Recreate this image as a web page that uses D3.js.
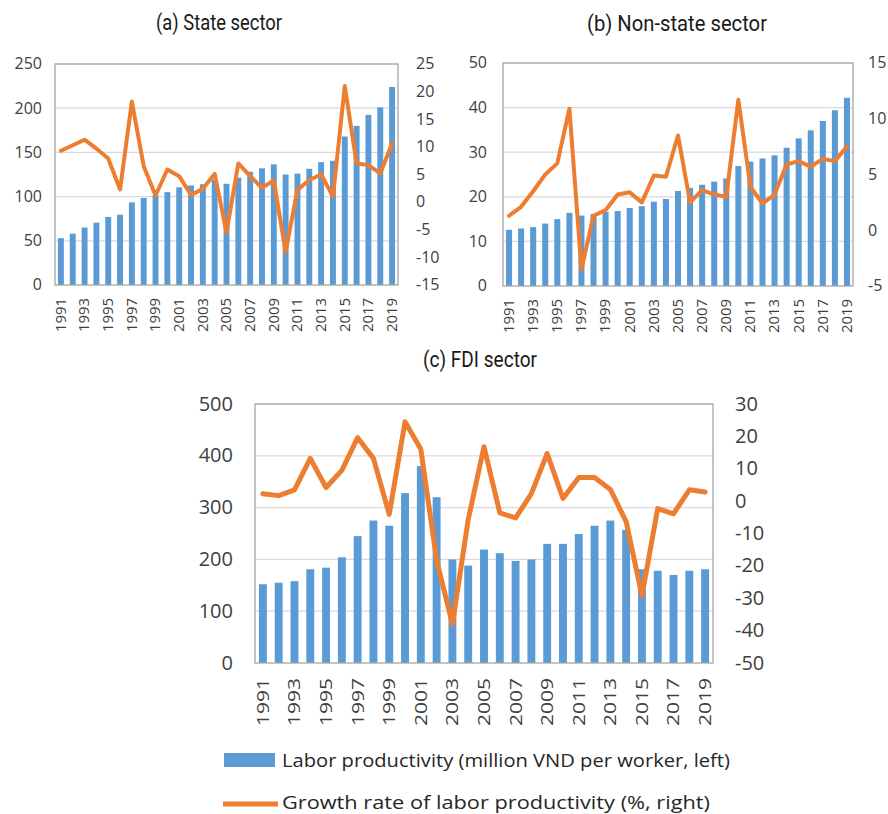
<!DOCTYPE html>
<html>
<head>
<meta charset="utf-8">
<script src="https://cdn.jsdelivr.net/npm/d3@7"></script>
<style>
  body { margin: 0; background: #fff; }
  svg { display: block; }
</style>
</head>
<body>
<script>
// years on the x axis (every other one gets a label)
let years = [1991,1992,1993,1994,1995,1996,1997,1998,1999,2000,2001,2002,2003,2004,2005,
             2006,2007,2008,2009,2010,2011,2012,2013,2014,2015,2016,2017,2018,2019];

// (a) state sector
let stateProd = [53,58,65,70.5,77,79.5,93.5,98.5,101.5,105,110.5,112.5,114,119,114.5,
                 121.5,128,132,136.5,125,126,131.5,139,140.5,168,180,192.5,201,224];
let stateGrowth = [9.3,10.3,11.3,9.7,7.9,2.3,18.2,6.5,1.2,5.9,4.7,1.3,2.4,5.1,-5.5,
                   7.0,4.7,2.6,3.9,-9.0,2.2,4.0,5.0,1.0,21.0,7.0,6.7,5.2,10.6];

// (b) non-state sector
let nonStateProd = [12.6,12.9,13.2,14,15,16.4,15.8,16.1,16.6,16.8,17.5,17.9,18.9,19.5,21.3,
                    22,22.7,23.4,24.1,26.9,27.9,28.6,29.3,31,33.1,34.9,37,39.4,42.2];
let nonStateGrowth = [1.3,2.1,3.5,5.0,6.0,10.9,-3.5,1.3,1.8,3.2,3.4,2.5,4.9,4.8,8.5,
                      2.5,3.6,3.2,3.0,11.7,3.9,2.4,3.2,5.9,6.2,5.7,6.4,6.2,7.5];

// (c) FDI sector
let fdiProd = [152,155,158,181,184,204,245,275,265,328,380,320,200,188,219,
               212,197,200,230,230,249,265,275,257,181,178,170,178,181];
let fdiGrowth = [2.3,1.7,3.5,13.2,4.2,9.5,19.6,13.2,-4.1,24.5,16.0,-18.2,-38.0,-5.7,16.8,
                 -3.6,-5.2,2.3,14.7,0.8,7.3,7.3,3.6,-6.3,-29.2,-2.3,-3.9,3.5,2.8];

// tick labels
let stateLeftTicks = [0,50,100,150,200,250];
let stateRightTicks = [-15,-10,-5,0,5,10,15,20,25];
let nonStateLeftTicks = [0,10,20,30,40,50];
let nonStateRightTicks = [-5,0,5,10,15];
let fdiLeftTicks = [0,100,200,300,400,500];
let fdiRightTicks = [-50,-40,-30,-20,-10,0,10,20,30];

let legendLabels = ["Labor productivity (million VND per worker, left)",
                    "Growth rate of labor productivity (%, right)"];

let barColor = "#5b9bd5";
let lineColor = "#ed7d31";
let textColor = "#404040";

let w = 888;
let h = 814;

let viz = d3.select("body").append("svg")
    .attr("width", w)
    .attr("height", h);

// layout of each panel (plot box, font sizes, title spot)
let panels = [
  {title:"(a) State sector", prod:stateProd, growth:stateGrowth,
   leftTicks:stateLeftTicks, rightTicks:stateRightTicks,
   left:55, right:398, top:64, bottom:285, tickFont:16, padL:13, padR:18,
   yearFont:14, yearLen:34, yearGap:13, lineW:4,
   titleX:219, titleY:30, titleLen:126},
  {title:"(b) Non-state sector", prod:nonStateProd, growth:nonStateGrowth,
   leftTicks:nonStateLeftTicks, rightTicks:nonStateRightTicks,
   left:503, right:853, top:63, bottom:286, tickFont:16, padL:16, padR:15,
   yearFont:14, yearLen:34, yearGap:13, lineW:4,
   titleX:677, titleY:31, titleLen:180},
  {title:"(c) FDI sector", prod:fdiProd, growth:fdiGrowth,
   leftTicks:fdiLeftTicks, rightTicks:fdiRightTicks,
   left:255, right:713, top:404, bottom:663, tickFont:20, padL:22, padR:22,
   yearFont:17, yearLen:48, yearGap:15, lineW:5,
   titleX:480, titleY:367, titleLen:114}
];

panels.forEach(drawPanel);

function drawPanel(p){
  let xScale = d3.scaleBand()
      .domain(years)
      .range([p.left, p.right])
      .paddingInner(0.5)
      .paddingOuter(0.25);
  let yLeft = d3.scaleLinear().domain(d3.extent(p.leftTicks)).range([p.bottom, p.top]);
  let yRight = d3.scaleLinear().domain(d3.extent(p.rightTicks)).range([p.bottom, p.top]);

  let g = viz.append("g");

  // gridlines
  g.selectAll(".grid").data(p.leftTicks.slice(1)).join("line")
      .attr("x1", p.left).attr("x2", p.right)
      .attr("y1", d => yLeft(d)).attr("y2", d => yLeft(d))
      .attr("stroke", "#d9d9d9").attr("stroke-width", 1.2);

  // bars
  g.selectAll(".bar").data(years).join("rect")
      .attr("x", d => xScale(d))
      .attr("width", xScale.bandwidth())
      .attr("y", (d,i) => yLeft(p.prod[i]))
      .attr("height", (d,i) => yLeft(0) - yLeft(p.prod[i]))
      .attr("fill", barColor);

  // plot border
  g.append("rect")
      .attr("x", p.left).attr("y", p.top)
      .attr("width", p.right - p.left).attr("height", p.bottom - p.top)
      .attr("fill", "none").attr("stroke", "#a6a6a6").attr("stroke-width", 1.3);

  // growth line
  let line = d3.line()
      .x(d => xScale(d.year) + xScale.bandwidth()/2)
      .y(d => yRight(d.v));
  g.append("path")
      .datum(years.map((yr,i) => ({year:yr, v:p.growth[i]})))
      .attr("d", line)
      .attr("fill", "none")
      .attr("stroke", lineColor)
      .attr("stroke-width", p.lineW)
      .attr("stroke-linejoin", "round")
      .attr("stroke-linecap", "round");

  // plain hyphen for negatives, like the original
  let plain = d => String(d);

  // left axis
  let leftAxis = g.append("g")
      .attr("transform", "translate(" + p.left + ",0)")
      .call(d3.axisLeft(yLeft).tickValues(p.leftTicks).tickFormat(plain).tickSize(0).tickPadding(p.padL));
  // right axis
  let rightAxis = g.append("g")
      .attr("transform", "translate(" + p.right + ",0)")
      .call(d3.axisRight(yRight).tickValues(p.rightTicks).tickFormat(plain).tickSize(0).tickPadding(p.padR));
  [leftAxis, rightAxis].forEach(a => {
    a.select(".domain").remove();
    a.selectAll("text")
      .attr("font-family", "'Open Sans', 'Noto Sans', sans-serif")
      .attr("font-size", p.tickFont)
      .attr("fill", textColor)
      .attr("dy", "0.3em");
  });

  // bottom axis, rotated years
  let xAxisGroup = g.append("g")
      .attr("transform", "translate(0," + p.bottom + ")")
      .call(d3.axisBottom(xScale).tickValues(years.filter((d,i) => i % 2 == 0)).tickSize(0));
  xAxisGroup.select(".domain").remove();
  xAxisGroup.selectAll("text")
      .attr("transform", "rotate(-90)")
      .attr("x", -p.yearGap)
      .attr("y", 0)
      .attr("dy", "0.35em")
      .attr("text-anchor", "end")
      .attr("font-family", "'Open Sans', 'Noto Sans', sans-serif")
      .attr("font-size", p.yearFont)
      .attr("fill", textColor)
      .attr("textLength", p.yearLen)
      .attr("lengthAdjust", "spacingAndGlyphs");

  // title
  g.append("text")
      .attr("x", p.titleX - p.titleLen/2)
      .attr("y", p.titleY)
      .attr("font-family", "'Liberation Sans Narrow', Roboto, sans-serif")
      .attr("font-size", 22)
      .attr("fill", "#1a1a1a")
      .attr("textLength", p.titleLen)
      .attr("lengthAdjust", "spacingAndGlyphs")
      .text(p.title);
}

// legend
let legend = viz.append("g");
legend.append("rect")
    .attr("x", 224).attr("y", 753).attr("width", 51).attr("height", 14)
    .attr("fill", barColor);
legend.append("line")
    .attr("x1", 223).attr("x2", 278).attr("y1", 804).attr("y2", 804)
    .attr("stroke", lineColor).attr("stroke-width", 5);
legend.selectAll(".lab").data(legendLabels).join("text")
    .attr("x", 282)
    .attr("y", (d,i) => i == 0 ? 767 : 809)
    .attr("font-family", "'Open Sans', 'Noto Sans', sans-serif")
    .attr("font-size", 19)
    .attr("fill", "#262626")
    .attr("textLength", (d,i) => i == 0 ? 448 : 428)
    .attr("lengthAdjust", "spacingAndGlyphs")
    .text(d => d);
</script>
</body>
</html>
